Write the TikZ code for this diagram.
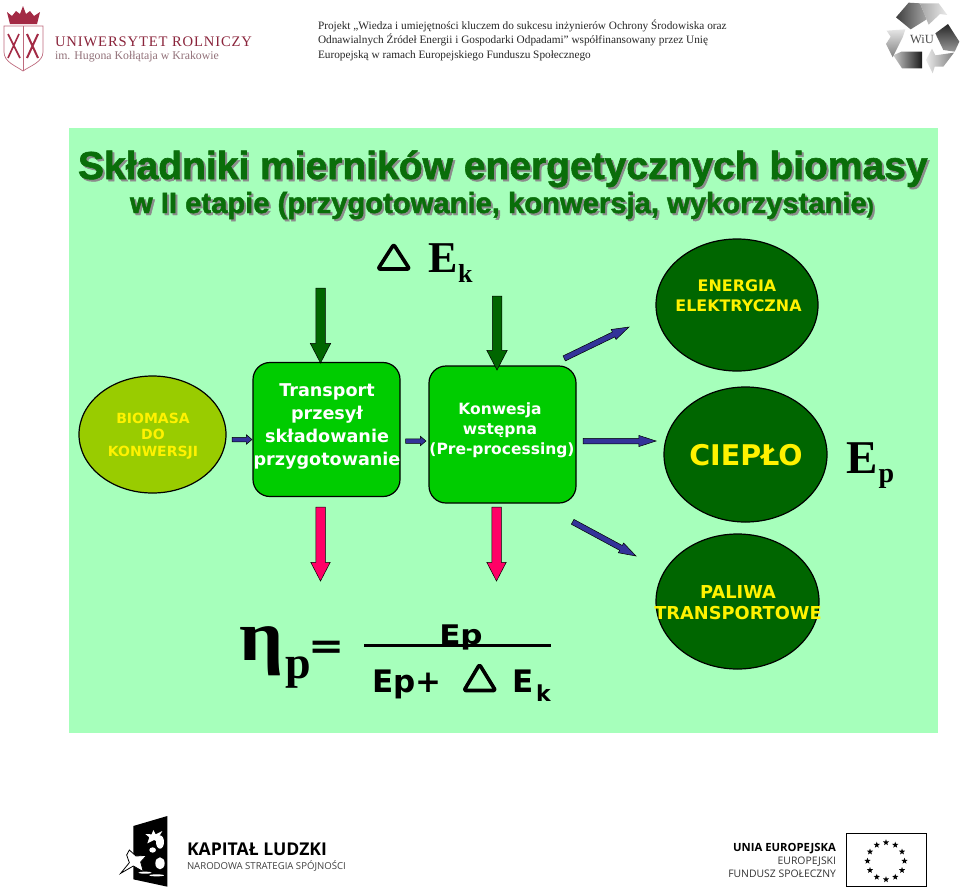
\documentclass[tikz,border=0pt]{standalone}
\usepackage{fontspec}
\setmainfont{Liberation Serif}
\newfontfamily\arialf[FakeBold=1.6]{Liberation Sans Bold}
\newfontfamily\verdf{DejaVu Sans}
\newfontfamily\openf{Open Sans}
\usetikzlibrary{shapes.geometric,shapes.arrows,calc}
\definecolor{panel}{HTML}{A6FFBB}
\definecolor{dgreen}{HTML}{006600}
\definecolor{boxgreen}{HTML}{00CC00}
\definecolor{limeg}{HTML}{99CC00}
\definecolor{navyb}{HTML}{333399}
\definecolor{pinkr}{HTML}{FF0066}
\definecolor{titleg}{HTML}{0A6E0A}
\definecolor{uniwred}{HTML}{A32A45}
\tikzset{
  txt/.style={inner sep=0pt,outer sep=0pt,anchor=base west},
  ctxt/.style={inner sep=0pt,outer sep=0pt,anchor=base},
  rtxt/.style={inner sep=0pt,outer sep=0pt,anchor=base east},
  oval/.style={ellipse,draw=black,line width=1.2pt,inner sep=0pt,fill=dgreen},
  stepbox/.style={draw=black,line width=1.2pt,fill=boxgreen,rounded corners=17pt,inner sep=0pt,minimum width=147pt},
  harrow/.style={single arrow,draw=black,line width=.5pt,inner sep=0pt,outer sep=0pt,minimum width=0pt,text width=0pt,text depth=0pt},
  greena/.style={harrow,fill=dgreen,text height=9pt,single arrow head extend=5.5pt,single arrow tip angle=55},
  reda/.style={harrow,fill=pinkr,text height=9pt,single arrow head extend=5pt,single arrow tip angle=55},
  bluesm/.style={harrow,fill=navyb,text height=4pt,single arrow head extend=2.5pt,single arrow tip angle=80},
  bluelg/.style={harrow,fill=navyb,text height=5pt,single arrow head extend=2.8pt,single arrow tip angle=36},
  deltat/.style={draw=black,line width=3.6pt,line join=round},
  titlef/.style={font=\arialf\fontsize{39}{39}\selectfont},
  subf/.style={font=\arialf\fontsize{29.2}{29}\selectfont},
  headf/.style={font=\fontsize{11.28}{12}\selectfont,text=black!85},
  euflagstar/.style={star,star points=5,star point ratio=2.4,fill=black,inner sep=0pt,minimum size=6.5pt},
}
\newcommand{\arrowlink}[4]{\path (#1) -- (#2) node[pos=1,sloped,allow upside down,#4,minimum height=#3,anchor=tip]{};}
\begin{document}
\begin{tikzpicture}[x=1pt,y=-1pt]
\useasboundingbox (0,0) rectangle (960,889);
\fill[white] (0,0) rectangle (960,889);

% ---- university logo
\fill[uniwred] (7,12) -- (12,16) -- (16,11) -- (20,14) -- (23,6) -- (26,14) -- (30,11) -- (34,16) -- (40,12) -- (37,24) -- (10,24) -- cycle;
\draw[uniwred!70,line width=.7pt,fill=white] (4,26) -- (43,26) -- (43,52) .. controls (43,62) and (30,66) .. (23,71) .. controls (16,66) and (4,62) .. (4,52) -- cycle;
\draw[uniwred!70,line width=.6pt] (23,26) -- (23,71);
\draw[uniwred,line width=1.6pt] (8,34) -- (20,58) (19,34) -- (8,58);
\draw[uniwred,line width=2pt] (27,34) -- (38,58) (38,34) -- (27,58);
\node[txt,text=uniwred!85!black,font=\fontsize{14.6}{15}\selectfont] (uni1) at (55,46.5) {\addfontfeature{LetterSpace=6}UNIWERSYTET ROLNICZY};
\node[txt,text=uniwred!45!black!60,font=\fontsize{11.8}{13}\selectfont] (uni2) at (55,59) {im. Hugona Kołłątaja w Krakowie};

% ---- header
\node[txt,headf] (h1) at (318,29) {Projekt „Wiedza i umiejętności kluczem do sukcesu inżynierów Ochrony Środowiska oraz};
\node[txt,headf] (h2) at (318,43.5) {Odnawialnych Źródeł Energii i Gospodarki Odpadami” współfinansowany przez Unię};
\node[txt,headf] (h3) at (318,58) {Europejską w ramach Europejskiego Funduszu Społecznego};

% ---- recycling logo
\begin{scope}[shift={(860,0)},scale=0.3333]
\shade[left color=black!75,right color=black!35] (108,52) -- (146,8) -- (180,10) -- (200,58) -- (152,88) -- cycle;
\shade[left color=black!35,right color=black!8] (180,10) -- (236,10) -- (262,45) -- (240,42) -- (206,74) -- cycle;
\shade[top color=black!85,bottom color=black!40] (226,100) -- (264,72) -- (298,125) -- (284,155) -- (250,150) -- cycle;
\shade[left color=black!8,right color=black!50] (198,180) -- (216,146) -- (226,166) -- (282,158) -- (250,200) -- (224,200) -- (218,220) -- cycle;
\shade[left color=black!20,right color=black!90] (100,166) -- (124,155) -- (186,155) -- (186,205) -- (126,205) -- cycle;
\shade[top color=black!10,bottom color=black!50] (80,92) -- (136,88) -- (128,112) -- (104,160) -- (98,172) -- (78,132) -- (92,110) -- cycle;
\node[ctxt,font=\fontsize{12.5}{13}\selectfont,text=black!70] (wiu) at (186,130) {WiU};
\end{scope}

% ---- panel
\fill[panel] (69,128) rectangle (938,733);

% ---- title
\node[txt,titlef,text=black!45] (t1s) at (80,181) {Składniki mierników energetycznych biomasy};
\node[txt,titlef,text=titleg] (t1) at (78,179) {Składniki mierników energetycznych biomasy};
\node[txt,subf,text=black!45] (t2s) at (132,215) {w II etapie (przygotowanie, konwersja, wykorzystanie{\fontsize{21}{21}\selectfont)}};
\node[txt,subf,text=titleg] (t2) at (130,213) {w II etapie (przygotowanie, konwersja, wykorzystanie{\fontsize{21}{21}\selectfont)}};

% ---- nodes
\node[oval,fill=limeg,minimum width=147pt,minimum height=117pt] (bio) at (152.5,434.5) {};
\node[stepbox,minimum height=134pt] (trans) at (326.5,429.5) {};
\node[stepbox,minimum height=137pt] (konw) at (502.5,434.5) {};
\node[oval,minimum width=162pt,minimum height=132pt] (ener) at (737,305) {};
\node[oval,minimum width=163pt,minimum height=135pt] (ciep) at (745.5,454.5) {};
\node[oval,minimum width=163pt,minimum height=135pt] (pali) at (737.5,601.5) {};

% ---- node labels
\begin{scope}[font=\verdf\bfseries\fontsize{14}{14}\selectfont,text=yellow]
\node[ctxt] (l1) at (153,423) {BIOMASA};
\node[ctxt] (l2) at (153,439) {DO};
\node[ctxt] (l3) at (153,456) {KONWERSJI};
\end{scope}
\begin{scope}[font=\verdf\bfseries\fontsize{17.6}{18}\selectfont,text=white]
\node[ctxt] (l4) at (327,396) {Transport};
\node[ctxt] (l5) at (327,419) {przesył};
\node[ctxt] (l6) at (327,442) {składowanie};
\node[ctxt] (l7) at (327,465) {przygotowanie};
\end{scope}
\begin{scope}[font=\verdf\bfseries\fontsize{15.5}{16}\selectfont,text=white]
\node[ctxt] (l8) at (500,414) {Konwesja};
\node[ctxt] (l9) at (500,434) {wstępna};
\node[ctxt] (l10) at (502,454) {(Pre-processing)};
\end{scope}
\begin{scope}[font=\verdf\bfseries\fontsize{15.9}{16}\selectfont,text=yellow]
\node[ctxt] (l11) at (737,291) {ENERGIA};
\node[ctxt] (l12) at (738.5,311) {ELEKTRYCZNA};
\end{scope}
\begin{scope}[font=\verdf\bfseries\fontsize{17.8}{18}\selectfont,text=yellow]
\node[ctxt] (l14) at (738,598) {PALIWA};
\node[ctxt] (l15) at (738,619) {TRANSPORTOWE};
\end{scope}
\node[ctxt,font=\verdf\bfseries\fontsize{28.5}{28}\selectfont,text=yellow] (l13) at (746,465) {CIEPŁO};

% ---- connector ends
\coordinate (g1a) at (320.5,288); \coordinate (g1b) at (320.5,363);
\coordinate (g2a) at (497,296); \coordinate (g2b) at (497,370);
\coordinate (r1a) at (320.5,507); \coordinate (r1b) at (320.5,581);
\coordinate (r2a) at (496.5,507); \coordinate (r2b) at (496.5,581);
\coordinate (b1a) at (232,439.5); \coordinate (b1b) at (252,439.5);
\coordinate (b2a) at (405.5,441); \coordinate (b2b) at (426,441);
\coordinate (b3a) at (583,441); \coordinate (b3b) at (656,441);
\coordinate (b4a) at (564,358.5); \coordinate (b4b) at (629,327);
\coordinate (b5a) at (573,522); \coordinate (b5b) at (636,556);

% ---- connectors
\arrowlink{g1a}{g1b}{75pt}{greena}
\arrowlink{g2a}{g2b}{74pt}{greena}
\arrowlink{r1a}{r1b}{74pt}{reda}
\arrowlink{r2a}{r2b}{74pt}{reda}
\arrowlink{b1a}{b1b}{20pt}{bluesm}
\arrowlink{b2a}{b2b}{20.5pt}{bluesm}
\arrowlink{b3a}{b3b}{73pt}{bluelg}
\arrowlink{b4a}{b4b}{72pt}{bluelg}
\arrowlink{b5a}{b5b}{72pt}{bluelg}

% ---- E_k, E_p
\draw[deltat,rounded corners=2pt] (393.7,244.5) -- (409.5,269) -- (378,269) -- cycle;
\node[txt,font=\bfseries\fontsize{44}{44}\selectfont] (ek) at (428,272.5) {E};
\node[txt,font=\bfseries\fontsize{26}{26}\selectfont] (eks) at (458,282) {k};
\node[txt,font=\bfseries\fontsize{47}{47}\selectfont] (ep) at (846,473.5) {E};
\node[txt,font=\bfseries\fontsize{28}{28}\selectfont] (eps) at (878.5,482) {p};

% ---- formula
\node[txt,font=\fontsize{72}{72}\selectfont\bfseries,xscale=1.08,transform shape] (eta) at (239,660) {η};
\node[txt,font=\bfseries\fontsize{46}{46}\selectfont] (etas) at (285,678) {p};
\node[txt,font=\verdf\bfseries\fontsize{36}{36}\selectfont,xscale=1.2,transform shape] (eq) at (308.5,658) {=};
\coordinate (fl) at (364,645.5); \coordinate (fr) at (551,645.5);
\draw[line width=2.2pt] (fl) -- (fr);
\node[ctxt,font=\verdf\bfseries\fontsize{27}{27}\selectfont,xscale=1.15,transform shape] (num) at (461,644.5) {Ep};
\node[txt,font=\verdf\bfseries\fontsize{31}{31}\selectfont] (den) at (372,692) {Ep+};
\draw[deltat,rounded corners=2pt] (479.5,664.5) -- (495.5,690.5) -- (464,690.5) -- cycle;
\node[txt,font=\verdf\bfseries\fontsize{31}{31}\selectfont] (dene) at (512,692) {E};
\node[txt,font=\verdf\bfseries\fontsize{22}{22}\selectfont] (denk) at (536,701.5) {k};

% ---- human capital logo
\begin{scope}[shift={(110,800)},scale=0.3333]
\fill[black] (70,78) -- (172,48) -- (172,260) -- (70,238) -- cycle;
\fill[white] (130,90) -- (137,103) -- (157,93) -- (146,112) -- (150,128) -- (132,120) -- (112,130) -- (118,112) -- (106,102) -- (125,103) -- cycle;
\draw[black,line width=.8pt,fill=white] (58,150) -- (78,168) -- (110,166) -- (92,186) -- (100,215) -- (70,198) -- (32,220) -- (58,188) -- (50,165) -- cycle;
\fill[white] (150,126) ellipse (12 and 20);
\fill[white] (128,150) ellipse (10 and 8);
\fill[white] (150,190) ellipse (14 and 18);
\fill[white] (105,218) ellipse (20 and 3);
\fill[white] (140,226) ellipse (22 and 3);
\end{scope}
\node[txt,font=\openf\bfseries\fontsize{17.6}{18}\selectfont] (kl1) at (187,855) {KAPITAŁ LUDZKI};
\node[txt,font=\openf\fontsize{9.6}{10}\selectfont,text=black!75] (kl2) at (187,869) {NARODOWA STRATEGIA SPÓJNOŚCI};

% ---- EU logo
\node[rtxt,font=\openf\bfseries\fontsize{11.3}{11}\selectfont] (eu1) at (836,851) {UNIA EUROPEJSKA};
\node[rtxt,font=\openf\fontsize{10.4}{11}\selectfont,text=black!80] (eu2) at (836,864) {EUROPEJSKI};
\node[rtxt,font=\openf\fontsize{10.4}{11}\selectfont,text=black!80] (eu3) at (836,877) {FUNDUSZ SPOŁECZNY};
\draw[black,line width=1.3pt] (846.5,833.5) rectangle (926.5,886.5);
\foreach \a in {0,30,...,330}
  \node[euflagstar] (star\a) at ($(886,861)+(\a:18.5)$) {};
\end{tikzpicture}
\end{document}
